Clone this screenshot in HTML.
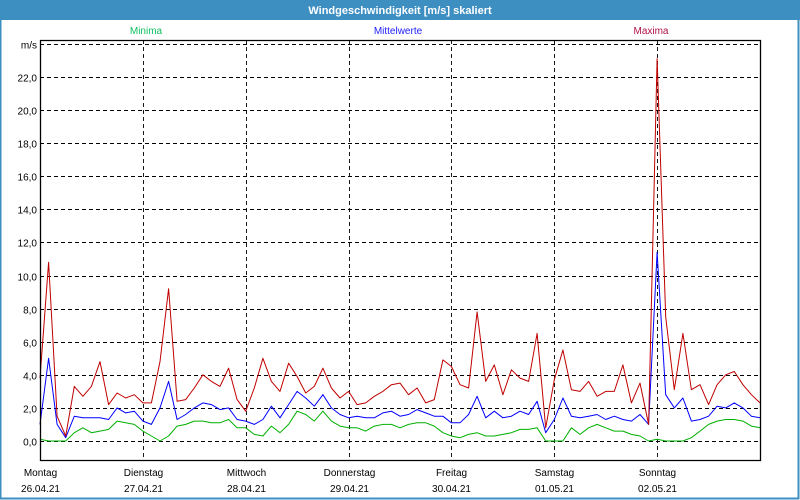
<!DOCTYPE html>
<html><head><meta charset="utf-8"><style>
html,body{margin:0;padding:0;background:#fff}
#wrap{position:relative;width:800px;height:500px;overflow:hidden;font-family:"Liberation Sans",sans-serif}
</style></head><body>
<div id="wrap">
<svg id="chart" width="800" height="500" xmlns="http://www.w3.org/2000/svg">
<rect x="0" y="0" width="800" height="500" fill="#fff"/>
<rect x="0.5" y="0.5" width="798" height="498" fill="none" stroke="#3d8fc2" stroke-width="2"/>
<rect x="0" y="0" width="800" height="20" fill="#3d8fc2"/>
<text x="400" y="14" text-anchor="middle" fill="#fff" font-size="11" font-weight="bold">Windgeschwindigkeit [m/s] skaliert</text>
<text x="146" y="34" text-anchor="middle" fill="#10c060" font-size="10">Minima</text>
<text x="398" y="34" text-anchor="middle" fill="#2020ff" font-size="10">Mittelwerte</text>
<text x="651" y="34" text-anchor="middle" fill="#b0104a" font-size="10">Maxima</text>
<g id="grid"></g>
<g id="series"></g>
<g id="axes"></g>
</svg>
</div>
<script>
const yTicks = [0,2,4,6,8,10,12,14,16,18,20,22];
const yTickLabels = ["0,0","2,0","4,0","6,0","8,0","10,0","12,0","14,0","16,0","18,0","20,0","22,0"];
const days = ["Montag","Dienstag","Mittwoch","Donnerstag","Freitag","Samstag","Sonntag"];
const dates = ["26.04.21","27.04.21","28.04.21","29.04.21","30.04.21","01.05.21","02.05.21"];
const maxima = [3.8,10.8,1.5,0.3,3.3,2.7,3.3,4.8,2.2,2.9,2.6,2.8,
 2.3,2.3,4.8,9.2,2.4,2.5,3.2,4.0,3.6,3.3,4.4,2.5,
 1.8,3.2,5.0,3.6,3.0,4.7,3.9,2.9,3.3,4.4,3.2,2.6,
 3.0,2.2,2.3,2.7,3.0,3.4,3.5,2.8,3.2,2.3,2.5,4.9,
 4.5,3.4,3.2,7.8,3.6,4.6,2.8,4.3,3.8,3.6,6.5,0.8,
 3.7,5.5,3.1,3.0,3.6,2.7,3.0,3.0,4.6,2.3,3.5,1.0,
 23.1,7.5,3.1,6.5,3.1,3.4,2.2,3.4,4.0,4.2,3.4,2.8,2.3];
const mittel = [1.0,5.0,1.0,0.2,1.5,1.4,1.4,1.4,1.3,2.0,1.7,1.8,
 1.2,1.0,2.0,3.6,1.3,1.6,2.0,2.3,2.2,1.9,2.0,1.3,
 1.2,1.0,1.3,2.1,1.4,2.2,3.0,2.6,2.1,2.8,2.0,1.6,
 1.4,1.5,1.4,1.4,1.7,1.8,1.5,1.6,1.9,1.7,1.5,1.5,
 1.1,1.1,1.6,2.7,1.4,1.8,1.4,1.5,1.8,1.6,2.4,0.5,
 1.3,2.6,1.5,1.4,1.5,1.6,1.3,1.5,1.3,1.2,1.6,1.0,
 11.4,2.8,2.0,2.6,1.2,1.3,1.5,2.1,2.0,2.3,2.0,1.5,1.4];
const minima = [0.1,0.0,0.0,0.0,0.5,0.8,0.5,0.6,0.7,1.2,1.1,1.0,
 0.6,0.3,0.0,0.3,0.9,1.0,1.2,1.2,1.1,1.1,1.3,0.8,
 0.8,0.4,0.3,0.9,0.5,1.0,1.8,1.6,1.2,1.8,1.2,0.9,
 0.8,0.8,0.6,0.9,1.0,1.0,0.8,1.0,1.1,1.1,0.9,0.5,
 0.3,0.2,0.4,0.5,0.3,0.3,0.4,0.5,0.7,0.7,0.8,0.0,
 0.0,0.0,0.8,0.4,0.8,1.0,0.8,0.6,0.6,0.4,0.3,0.0,
 0.1,0.0,0.0,0.0,0.2,0.6,1.0,1.2,1.3,1.3,1.2,0.9,0.8];

const NS="http://www.w3.org/2000/svg";
const X0=40, X1=760, Y0=441, PX=16.55;
const n = maxima.length;
const xs = i => X0 + i*(X1-X0)/(n-1);
const ys = v => Y0 - v*PX;
const grid=document.getElementById('grid'), ser=document.getElementById('series'), ax=document.getElementById('axes');
function mk(tag,attrs,parent){const e=document.createElementNS(NS,tag);for(const k in attrs)e.setAttribute(k,attrs[k]);parent.appendChild(e);return e;}
yTicks.forEach((v,i)=>{
  const y=Math.round(ys(v))+0.5;
  const l=mk('line',{x1:X0,x2:X1,y1:y,y2:y,stroke:'#000','stroke-dasharray':'4,3','stroke-width':'0.9'},grid);
  
  
  const t=mk('text',{x:37,y:y+4,'text-anchor':'end','font-size':'10',fill:'#000'},ax);
  t.textContent=yTickLabels[i];
  
  
});
{const y=Math.round(ys(24))+0.5;
 const l=mk('line',{x1:X0,x2:X1,y1:y,y2:y,stroke:'#000','stroke-dasharray':'4,3','stroke-width':'0.9'},grid);
 
 
 const t=mk('text',{x:37,y:y+4,'text-anchor':'end','font-size':'10',fill:'#000'},ax);
 t.textContent='m/s';
 
 }
const dayW=(X1-X0)/days.length;
days.forEach((d,i)=>{
  const x=Math.round(X0+i*dayW)+0.5;
  if(i>0){const l=mk('line',{x1:x,x2:x,y1:40,y2:460,stroke:'#000','stroke-dasharray':'4,3','stroke-width':'0.9'},grid);
    
    }
  const t=mk('text',{x:x,y:476,'text-anchor':'middle','font-size':'10',fill:'#000'},ax);
  t.textContent=d;
  
  
  const t2=mk('text',{x:x,y:492,'text-anchor':'middle','font-size':'10',fill:'#000'},ax);
  t2.textContent=dates[i];
  
  
});
const fr=mk('path',{d:'M40.5 40.5 H760.5 V460.5 H40.5 Z',fill:'none',stroke:'#000','stroke-width':'1.3'},ax);


function line(arr,col,name){
  const p=mk('polyline',{points:arr.map((v,i)=>xs(i).toFixed(1)+','+ys(v).toFixed(1)).join(' '),fill:'none',stroke:col,'stroke-width':'1','stroke-linejoin':'round'},ser);
  
  
}
line(minima,'#00b000','minima-line');
line(mittel,'#0000ff','mittelwerte-line');
line(maxima,'#c00000','maxima-line');
</script>
</body></html>
